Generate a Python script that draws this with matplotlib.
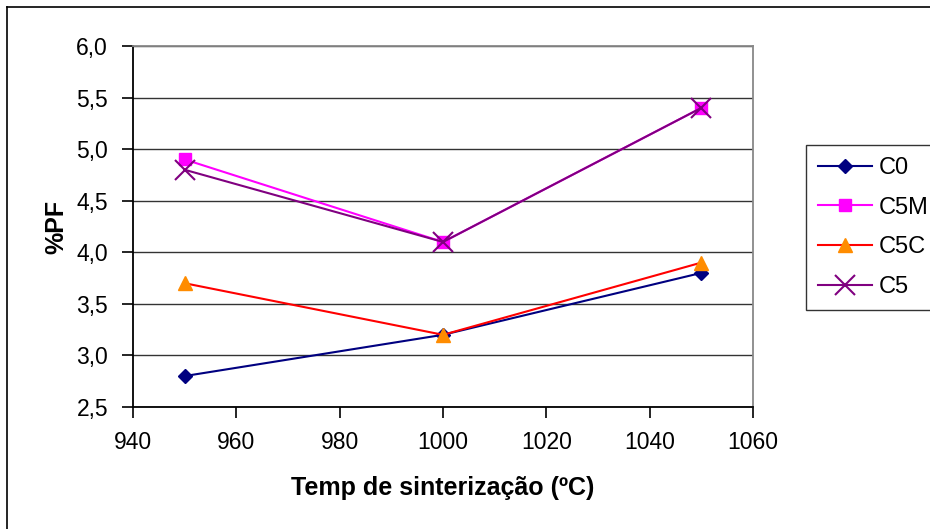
import matplotlib.pyplot as plt
from matplotlib.lines import Line2D

plt.rcParams['font.family'] = ['Liberation Sans', 'DejaVu Sans']

# data
temps = [950, 1000, 1050]
c0 = [2.8, 3.2, 3.8]
c5m = [4.9, 4.1, 5.4]
c5c = [3.7, 3.2, 3.9]
c5 = [4.8, 4.1, 5.4]
y_ticks = [2.5, 3.0, 3.5, 4.0, 4.5, 5.0, 5.5, 6.0]
x_ticks = [940, 960, 980, 1000, 1020, 1040, 1060]

fig = plt.figure(figsize=(9.30, 5.29), dpi=100)
ax = fig.add_axes([133 / 930, 1 - 407 / 529, 620 / 930, 361 / 529])

# outer chart frame (only left and top visible in the reference)
fig.add_artist(Line2D([7 / 930, 7 / 930], [0, 1 - 7 / 529], color='black', lw=1.2))
fig.add_artist(Line2D([7 / 930, 1], [1 - 7 / 529, 1 - 7 / 529], color='black', lw=1.2))

ax.plot(temps, c0, color='#000080', marker='D', ms=7, lw=1.5, label='C0')
ax.plot(temps, c5m, color='#FF00FF', marker='s', ms=8, lw=1.5, label='C5M')
ax.plot(temps, c5c, color='#FF0000', marker='^', ms=10, lw=1.5, label='C5C',
        markerfacecolor='#FF8C00', markeredgecolor='#FF8C00')
ax.plot(temps, c5, color='#800080', marker='x', ms=14, mew=1.5, lw=1.5, label='C5')

ax.set_xlim(940, 1060)
ax.set_ylim(2.5, 6.0)
ax.set_xticks(x_ticks)
ax.set_yticks(y_ticks)
ax.set_yticklabels([f'{v:.1f}'.replace('.', ',') for v in y_ticks])
ax.tick_params(labelsize=16.5, direction='out', length=8, width=1.2, pad=10)
ax.tick_params(axis='x', pad=9)
ax.yaxis.grid(True, color='#333333', lw=1)
ax.set_axisbelow(True)

for s in ['left', 'bottom']:
    ax.spines[s].set_linewidth(1.3)
for s in ['top', 'right']:
    ax.spines[s].set_color('#888888')
    ax.spines[s].set_linewidth(1.3)

ax.set_xlabel('Temp de sinterização (ºC)', fontsize=18, fontweight='bold', labelpad=16)
ax.set_ylabel('%PF', fontsize=18, fontweight='bold', labelpad=6)

leg = ax.legend(loc='upper left', bbox_to_anchor=(806 / 930, 1 - 145 / 529),
                bbox_transform=fig.transFigure, fontsize=17, frameon=True,
                fancybox=False, edgecolor='black', handlelength=2.3,
                handletextpad=0.3, borderpad=0.5, labelspacing=0.75,
                borderaxespad=0)
leg.get_frame().set_linewidth(1.0)

fig.savefig('out.png', dpi=100)
